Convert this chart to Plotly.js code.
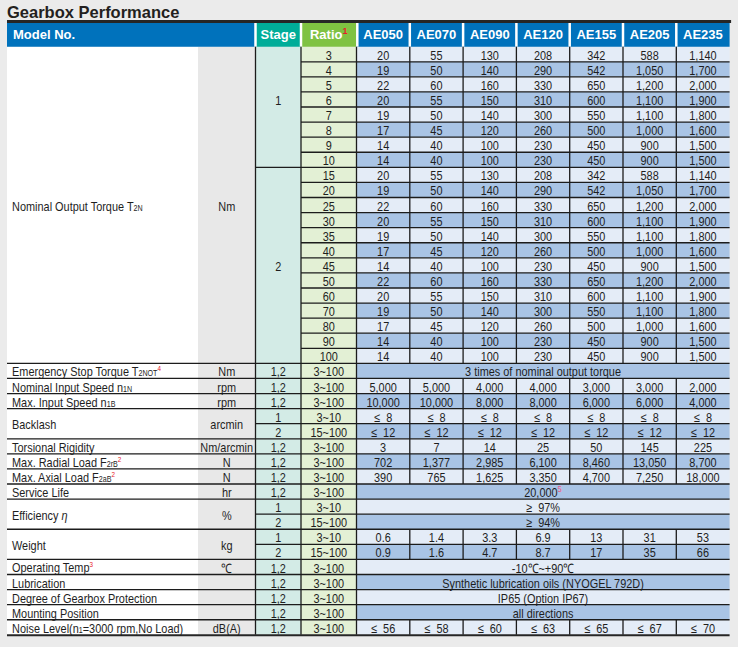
<!DOCTYPE html>
<html>
<head>
<meta charset="utf-8">
<script src="https://cdn.plot.ly/plotly-3.0.1.min.js"></script>
<style>html,body{margin:0;padding:0;background:#ebebeb;overflow:hidden;}</style>
</head>
<body>
<div id="chart" style="width:738px;height:647px;"></div>
<script>
// ================= DATA =================
const TITLE = 'Gearbox Performance';
const HEADER_MODEL = 'Model No.';
const HEADER_STAGE = 'Stage';
const HEADER_RATIO = 'Ratio';
const HEADER_RATIO_NOTE = '1';
const MODELS = ['AE050', 'AE070', 'AE090', 'AE120', 'AE155', 'AE205', 'AE235'];

const STAGE1_RATIOS = [3, 4, 5, 6, 7, 8, 9, 10];
const STAGE2_RATIOS = [15, 20, 25, 30, 35, 40, 45, 50, 60, 70, 80, 90, 100];
const TORQUE_STAGE1 = [
  [20, 55, 130, 208, 342, 588, 1140],
  [19, 50, 140, 290, 542, 1050, 1700],
  [22, 60, 160, 330, 650, 1200, 2000],
  [20, 55, 150, 310, 600, 1100, 1900],
  [19, 50, 140, 300, 550, 1100, 1800],
  [17, 45, 120, 260, 500, 1000, 1600],
  [14, 40, 100, 230, 450, 900, 1500],
  [14, 40, 100, 230, 450, 900, 1500]
];
const TORQUE_STAGE2 = [
  [20, 55, 130, 208, 342, 588, 1140],
  [19, 50, 140, 290, 542, 1050, 1700],
  [22, 60, 160, 330, 650, 1200, 2000],
  [20, 55, 150, 310, 600, 1100, 1900],
  [19, 50, 140, 300, 550, 1100, 1800],
  [17, 45, 120, 260, 500, 1000, 1600],
  [14, 40, 100, 230, 450, 900, 1500],
  [22, 60, 160, 330, 650, 1200, 2000],
  [20, 55, 150, 310, 600, 1100, 1900],
  [19, 50, 140, 300, 550, 1100, 1800],
  [17, 45, 120, 260, 500, 1000, 1600],
  [14, 40, 100, 230, 450, 900, 1500],
  [14, 40, 100, 230, 450, 900, 1500]
];
const NOMINAL_INPUT_SPEED = [5000, 5000, 4000, 4000, 3000, 3000, 2000];
const MAX_INPUT_SPEED = [10000, 10000, 8000, 8000, 6000, 6000, 4000];
const BACKLASH_STAGE1 = [8, 8, 8, 8, 8, 8, 8];
const BACKLASH_STAGE2 = [12, 12, 12, 12, 12, 12, 12];
const TORSIONAL_RIGIDITY = [3, 7, 14, 25, 50, 145, 225];
const MAX_RADIAL_LOAD = [702, 1377, 2985, 6100, 8460, 13050, 8700];
const MAX_AXIAL_LOAD = [390, 765, 1625, 3350, 4700, 7250, 18000];
const WEIGHT_STAGE1 = ['0.6', '1.4', '3.3', '6.9', '13', '31', '53'];
const WEIGHT_STAGE2 = ['0.9', '1.6', '4.7', '8.7', '17', '35', '66'];
const NOISE_LEVEL = [56, 58, 60, 63, 65, 67, 70];

const EMERGENCY_TEXT = '3 times of nominal output torque';
const SERVICE_LIFE = 20000;
const SERVICE_LIFE_NOTE = '5';
const EFFICIENCY_STAGE1 = '97%';
const EFFICIENCY_STAGE2 = '94%';
const OPERATING_TEMP = '-10℃~+90℃';
const LUBRICATION = 'Synthetic lubrication oils (NYOGEL 792D)';
const PROTECTION = 'IP65 (Option IP67)';
const MOUNTING = 'all directions';

const STAGE_ONE = '1', STAGE_TWO = '2', STAGE_BOTH = '1,2';
const RANGE_ALL = '3~100', RANGE_STAGE1 = '3~10', RANGE_STAGE2 = '15~100';

// _{..} = subscript, ^{..} = footnote mark
const PROPERTY_LABELS = [
  'Nominal Output Torque T_{2N}',
  'Emergency Stop Torque T_{2NOT}^{4}',
  'Nominal Input Speed n_{1N}',
  'Max. Input Speed n_{1B}',
  'Backlash',
  'Torsional Rigidity',
  'Max. Radial Load F_{2rB}^{2}',
  'Max. Axial Load F_{2aB}^{2}',
  'Service Life',
  'Efficiency <i>η</i>',
  'Weight',
  'Operating Temp^{3}',
  'Lubrication',
  'Degree of Gearbox Protection',
  'Mounting Position',
  'Noise Level(n_{1}=3000 rpm,No Load)'
];
const PROPERTY_UNITS = ['Nm', 'Nm', 'rpm', 'rpm', 'arcmin', 'Nm/arcmin', 'N', 'N', 'hr', '%', 'kg', '℃', '', '', '', 'dB(A)'];

// ================= STYLE =================
const COLORS = {
  bg: '#ebebeb', headBlue: '#0072bc', headTeal: '#00ad99', headGreen: '#7fc242',
  label: '#ffffff', unit: '#e8e8e8', stage: '#d3ebe6', ratio: '#e3f0d5',
  light: '#e4ecf7', dark: '#a9c4e5', line: '#1c1c1c', text: '#1e1e1e', note: '#e8202a', note2: '#ee5a8a'
};
function hasFont(name) {
  const c = document.createElement('canvas').getContext('2d');
  const s = 'abcdefghijklmnopqrstuvwxyz0123456789,ABCDEFGH';
  c.font = '40px monospace'; const w1 = c.measureText(s).width;
  c.font = '40px "' + name + '", monospace'; const w2 = c.measureText(s).width;
  return Math.abs(w1 - w2) > 0.5;
}
const NARROW = hasFont('Liberation Sans Narrow');
const BODY_FAMILY = NARROW ? '"Liberation Sans Narrow", "Liberation Sans", Arial, sans-serif' : '"Liberation Sans", Arial, sans-serif';
const BODY_SIZE = 13;
const BODY_SQUEEZE = NARROW ? 1 : 0.84;   // horizontal compression to mimic a narrow face
const HEAD_FAMILY = '"Liberation Sans", Arial, sans-serif';
const TEXT_DY = 2.3;    // optical baseline correction for cell text
const LABEL_DY = 1.0;   // same for the left-hand labels

const ROW_H = 15.08, HEAD_TOP = 23, HEAD_BOT = 46.7;
const X = { lbl: 7, unit: 198, stage: 255.5, ratio: 301, data: 356.5, right: 729.6 };
const COL_W = (X.right - X.data) / MODELS.length;

// ================= BUILD ROWS =================
const fmt = v => (typeof v === 'number' ? v.toLocaleString('en-US') : v);
const note = (n, c) => '<sup><span style="color:' + (c || COLORS.note) + '">' + n + '</span></sup>';
const rows = [];
const propGroups = [];
function addBlock(p, blockRows) {
  const start = rows.length;
  blockRows.forEach(r => rows.push(r));
  propGroups.push({ start: start, len: blockRows.length, label: PROPERTY_LABELS[p], unit: PROPERTY_UNITS[p] });
}
addBlock(0, STAGE1_RATIOS.map((r, i) => ({ stage: STAGE_ONE, ratio: String(r), cells: TORQUE_STAGE1[i].map(fmt) }))
  .concat(STAGE2_RATIOS.map((r, i) => ({ stage: STAGE_TWO, ratio: String(r), cells: TORQUE_STAGE2[i].map(fmt) }))));
addBlock(1, [{ stage: STAGE_BOTH, ratio: RANGE_ALL, merged: EMERGENCY_TEXT }]);
addBlock(2, [{ stage: STAGE_BOTH, ratio: RANGE_ALL, cells: NOMINAL_INPUT_SPEED.map(fmt) }]);
addBlock(3, [{ stage: STAGE_BOTH, ratio: RANGE_ALL, cells: MAX_INPUT_SPEED.map(fmt) }]);
addBlock(4, [{ stage: STAGE_ONE, ratio: RANGE_STAGE1, cells: BACKLASH_STAGE1.map(v => '≤  ' + v) },
             { stage: STAGE_TWO, ratio: RANGE_STAGE2, cells: BACKLASH_STAGE2.map(v => '≤  ' + v) }]);
addBlock(5, [{ stage: STAGE_BOTH, ratio: RANGE_ALL, cells: TORSIONAL_RIGIDITY.map(fmt) }]);
addBlock(6, [{ stage: STAGE_BOTH, ratio: RANGE_ALL, cells: MAX_RADIAL_LOAD.map(fmt) }]);
addBlock(7, [{ stage: STAGE_BOTH, ratio: RANGE_ALL, cells: MAX_AXIAL_LOAD.map(fmt) }]);
addBlock(8, [{ stage: STAGE_BOTH, ratio: RANGE_ALL, merged: fmt(SERVICE_LIFE) + note(SERVICE_LIFE_NOTE, COLORS.note2) }]);
addBlock(9, [{ stage: STAGE_ONE, ratio: RANGE_STAGE1, merged: '≥  ' + EFFICIENCY_STAGE1 },
             { stage: STAGE_TWO, ratio: RANGE_STAGE2, merged: '≥  ' + EFFICIENCY_STAGE2 }]);
addBlock(10, [{ stage: STAGE_ONE, ratio: RANGE_STAGE1, cells: WEIGHT_STAGE1 },
              { stage: STAGE_TWO, ratio: RANGE_STAGE2, cells: WEIGHT_STAGE2 }]);
addBlock(11, [{ stage: STAGE_BOTH, ratio: RANGE_ALL, merged: OPERATING_TEMP }]);
addBlock(12, [{ stage: STAGE_BOTH, ratio: RANGE_ALL, merged: LUBRICATION }]);
addBlock(13, [{ stage: STAGE_BOTH, ratio: RANGE_ALL, merged: PROTECTION }]);
addBlock(14, [{ stage: STAGE_BOTH, ratio: RANGE_ALL, merged: MOUNTING }]);
addBlock(15, [{ stage: STAGE_BOTH, ratio: RANGE_ALL, cells: NOISE_LEVEL.map(v => '≤  ' + v) }]);

// stage groups: consecutive rows in the same property block with the same stage text
const stageGroups = [];
propGroups.forEach(g => {
  let s = g.start;
  for (let i = g.start + 1; i <= g.start + g.len; i++) {
    if (i === g.start + g.len || rows[i].stage !== rows[s].stage) {
      stageGroups.push({ start: s, len: i - s, text: rows[s].stage });
      s = i;
    }
  }
});
const isPropStart = new Set(propGroups.map(g => g.start));
const isStageStart = new Set(stageGroups.map(g => g.start));

// ================= GEOMETRY HELPERS =================
const rowTop = i => HEAD_BOT + i * ROW_H;
const rowMid = i => HEAD_BOT + (i + 0.5) * ROW_H;
const colMid = j => X.data + (j + 0.5) * COL_W;
const colEdge = j => X.data + j * COL_W;
const TABLE_BOT = rowTop(rows.length);
const HEAD_MID = (HEAD_TOP + HEAD_BOT) / 2;

const rect = (x0, x1, y0, y1, fill) => ({ type: 'rect', xref: 'x', yref: 'y', x0, x1, y0, y1, fillcolor: fill, line: { width: 0 }, layer: 'below' });
const seg = (x0, x1, y0, y1, color, w) => ({ type: 'line', xref: 'x', yref: 'y', x0, x1, y0, y1, line: { color: color, width: w }, layer: 'below' });

const shapes = [];
// body fills
shapes.push(rect(X.lbl, X.unit, HEAD_BOT, TABLE_BOT, COLORS.label));
shapes.push(rect(X.unit, X.stage, HEAD_BOT, TABLE_BOT, COLORS.unit));
shapes.push(rect(X.stage, X.ratio, HEAD_BOT, TABLE_BOT, COLORS.stage));
shapes.push(rect(X.ratio, X.data, HEAD_BOT, TABLE_BOT, COLORS.ratio));
rows.forEach((r, i) => shapes.push(rect(X.data, X.right, rowTop(i), rowTop(i + 1), i % 2 ? COLORS.dark : COLORS.light)));
// header fills
shapes.push(rect(X.lbl, X.stage, HEAD_TOP, HEAD_BOT, COLORS.headBlue));
shapes.push(rect(X.stage, X.ratio, HEAD_TOP, HEAD_BOT, COLORS.headTeal));
shapes.push(rect(X.ratio, X.data, HEAD_TOP, HEAD_BOT, COLORS.headGreen));
shapes.push(rect(X.data, X.right, HEAD_TOP, HEAD_BOT, COLORS.headBlue));
[X.stage, X.ratio, X.data + 0.8].concat(MODELS.slice(1).map((m, j) => colEdge(j + 1))).forEach(x =>
  shapes.push(seg(x, x, HEAD_TOP, HEAD_BOT, '#ffffff', 2.5)));
// horizontal grid lines
for (let i = 1; i < rows.length; i++) {
  const x0 = isPropStart.has(i) ? X.lbl : (isStageStart.has(i) ? X.stage : X.ratio);
  shapes.push(seg(x0, X.right, rowTop(i), rowTop(i), COLORS.line, 1.3));
}
// vertical grid lines
[X.stage, X.ratio, X.data].forEach(x => shapes.push(seg(x, x, HEAD_BOT, TABLE_BOT, COLORS.line, 1.3)));
let runStart = null;
for (let i = 0; i <= rows.length; i++) {
  const hasCells = i < rows.length && !!rows[i].cells;
  if (hasCells && runStart === null) runStart = i;
  if (!hasCells && runStart !== null) {
    for (let j = 1; j < MODELS.length; j++) shapes.push(seg(colEdge(j), colEdge(j), rowTop(runStart), rowTop(i), COLORS.line, 1.3));
    runStart = null;
  }
}
// table top/bottom rules
shapes.push(seg(X.lbl, X.right + 1.5, HEAD_TOP - 1.5, HEAD_TOP - 1.5, '#262626', 3));
shapes.push(seg(X.lbl, X.right, TABLE_BOT + 0.5, TABLE_BOT + 0.5, '#262626', 2));

// ================= TEXT =================
const bx = [], by = [], bt = [];
const put = (x, y, t) => { bx.push(x); by.push(y + TEXT_DY); bt.push(t); };
propGroups.forEach(g => { if (g.unit) put((X.unit + X.stage) / 2, rowTop(g.start) + g.len * ROW_H / 2, g.unit); });
stageGroups.forEach(g => put((X.stage + X.ratio) / 2, rowMid(g.start + Math.floor((g.len - 1) / 2)), g.text));
rows.forEach((r, i) => {
  put((X.ratio + X.data) / 2, rowMid(i), r.ratio);
  if (r.cells) r.cells.forEach((c, j) => put(colMid(j), rowMid(i), c));
  else put((X.data + X.right) / 2, rowMid(i), r.merged);
});

const hx = [(X.stage + X.ratio) / 2, (X.ratio + X.data) / 2].concat(MODELS.map((m, j) => colMid(j)));
const hy = hx.map(() => HEAD_MID + 1);
const ht = [HEADER_STAGE, HEADER_RATIO + note(HEADER_RATIO_NOTE)].concat(MODELS);

const bodyFont = { family: BODY_FAMILY, size: BODY_SIZE, color: COLORS.text };
const traces = [
  { type: 'scatter', mode: 'text', x: bx, y: by, text: bt, textposition: 'middle center', textfont: bodyFont, hoverinfo: 'skip', cliponaxis: false },
  { type: 'scatter', mode: 'text', x: hx, y: hy, text: ht, textposition: 'middle center',
    textfont: { family: HEAD_FAMILY, size: 13, color: '#ffffff', weight: 'bold' }, hoverinfo: 'skip', cliponaxis: false }
];

const richLabel = s => s
  .replace(/_\{(.+?)\}/g, (m, t) => '<span style="font-size:8.5px">' + t + '</span>')
  .replace(/\^\{(.+?)\}/g, (m, t) => '<sup><span style="color:' + COLORS.note + ';font-size:7.5px">' + t + '</span></sup>');

const annotations = [];
annotations.push({ xref: 'x', yref: 'y', x: X.lbl + 4.5, y: HEAD_MID, xanchor: 'left', yanchor: 'middle', showarrow: false, borderpad: 0,
  text: '<b>' + HEADER_MODEL + '</b>', font: { family: HEAD_FAMILY, size: 13, color: '#ffffff', weight: 'bold' } });
propGroups.forEach(g => {
  annotations.push({ xref: 'x', yref: 'y', x: X.lbl + 3.5, y: rowTop(g.start) + g.len * ROW_H / 2 + LABEL_DY, xanchor: 'left', yanchor: 'middle',
    showarrow: false, borderpad: 0, text: richLabel(g.label), font: bodyFont });
});

const layout = {
  width: 738, height: 647, margin: { l: 0, r: 0, t: 0, b: 0, pad: 0 },
  paper_bgcolor: COLORS.bg, plot_bgcolor: 'rgba(0,0,0,0)',
  xaxis: { range: [0, 738], visible: false, fixedrange: true },
  yaxis: { range: [647, 0], visible: false, fixedrange: true },
  showlegend: false, shapes: shapes, annotations: annotations,
  title: { text: '<b>' + TITLE + '</b>', xref: 'container', yref: 'container', x: 7 / 738, xanchor: 'left', y: 1 - 12 / 647, yanchor: 'middle',
    pad: { t: 0, b: 0, l: 0, r: 0 }, font: { family: HEAD_FAMILY, size: 16.5, color: '#231f20', weight: 'bold' } }
};

// horizontal squeeze of body text (mimics the condensed face of the original)
function squeeze(el, cx) {
  const prev = el.getAttribute('transform') || '';
  el.setAttribute('transform', prev + ' translate(' + cx + ',0) scale(' + BODY_SQUEEZE + ',1) translate(' + (-cx) + ',0)');
}
Plotly.newPlot('chart', traces, layout, { staticPlot: true, displayModeBar: false }).then(gd => {
  if (BODY_SQUEEZE === 1) return;
  const tr = gd.querySelectorAll('.scatterlayer .trace')[0];
  if (tr) tr.querySelectorAll('.textpoint text').forEach(t => {
    const b = t.getBBox(); squeeze(t, b.x + b.width / 2);
  });
  gd.querySelectorAll('.annotation').forEach((a, k) => {
    if (k === 0) return;
    const t = a.querySelector('text.annotation-text');
    if (t) { const b = t.getBBox(); squeeze(t, b.x); }
  });
});
</script>
</body>
</html>
